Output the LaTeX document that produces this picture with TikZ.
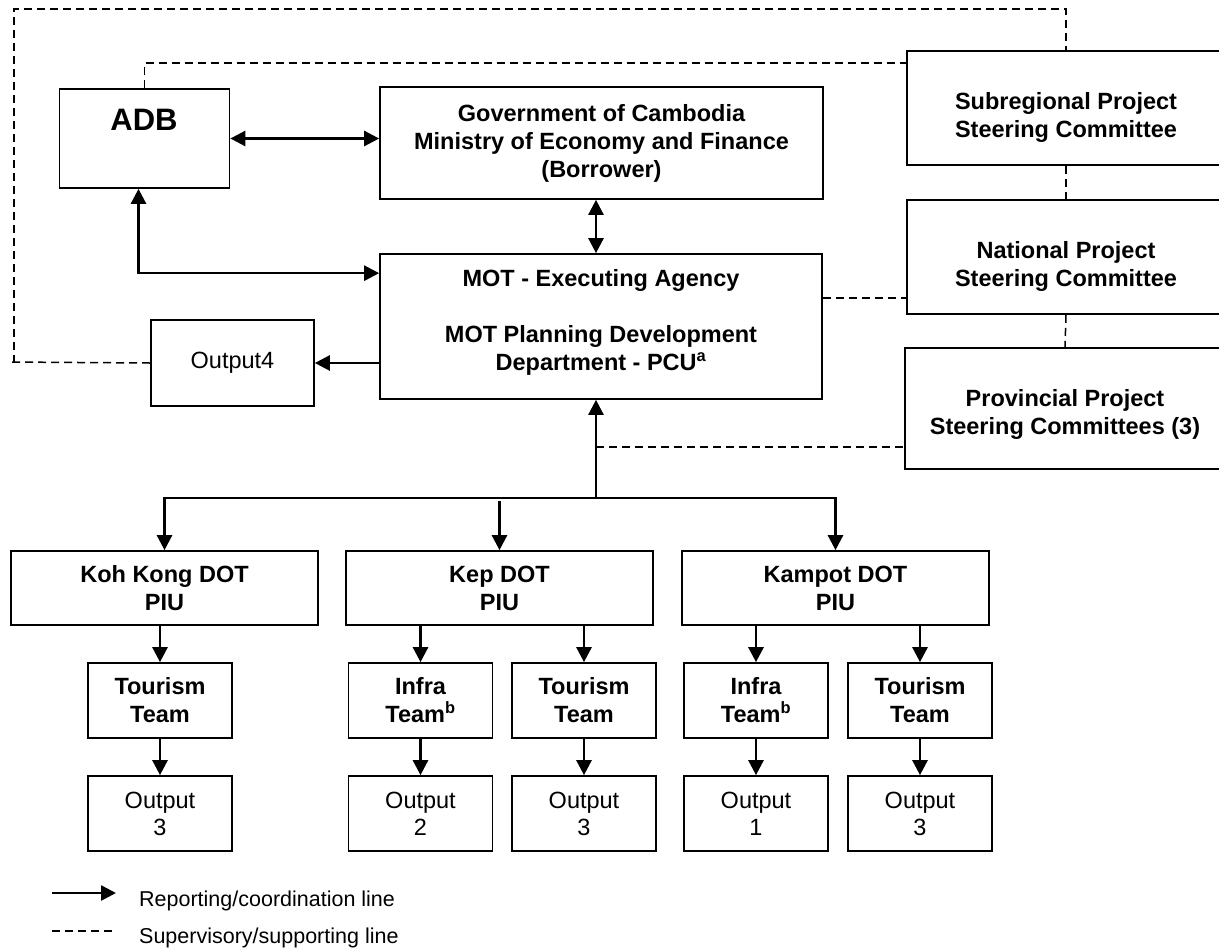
\documentclass[tikz,border=0pt]{standalone}
\usepackage{fontspec}
\setmainfont{Liberation Sans}
\usetikzlibrary{arrows.meta,calc}
\begin{document}
\begin{tikzpicture}[x=1pt,y=-1pt,
  box/.style={draw,line width=1.7pt,inner sep=0pt,align=center,font=\fontsize{23.5}{28}\selectfont\bfseries},
  obox/.style={box,font=\fontsize{23.5}{27}\selectfont},
  txt/.style={inner sep=0pt,align=center,font=\fontsize{23.5}{28}\selectfont\bfseries},
  legtxt/.style={inner sep=0pt,anchor=west,font=\fontsize{21.5}{25}\selectfont},
  arr/.style={line width=2.6pt,-{Triangle[length=15pt,width=15pt]}},
  darr/.style={line width=2.6pt,{Triangle[length=15pt,width=15pt]}-{Triangle[length=15pt,width=15pt]}},
  dashln/.style={line width=1.5pt,dash pattern=on 8pt off 5pt},
]
\useasboundingbox (0,0) rectangle (1219,951);
\clip (0,0) rectangle (1219,951);

% top boxes
\node[box,minimum width=170pt,minimum height=99pt] (adb) at (144.5,138.5) {};
\node[txt,font=\fontsize{31}{36}\selectfont\bfseries] (adbt) at (144,120) {ADB};
\node[box,minimum width=443pt,minimum height=112pt] (gov) at (601.5,143)
  {Government of Cambodia\\Ministry of Economy and Finance\\(Borrower)};
\node[box,minimum width=442pt,minimum height=145pt] (mot) at (601,326.5) {};
\node[txt] (mott) at (601,322)
  {MOT - Executing Agency\\[28pt]MOT Planning Development\\Department - PCU\textsuperscript{a}};
\node[obox,minimum width=163pt,minimum height=86pt] (out4) at (232.5,363) {Output4};

% steering committees
\node[box,minimum width=318pt,minimum height=114pt] (sub) at (1066,108) {};
\node[txt] (subt) at (1066,117) {Subregional Project\\Steering Committee};
\node[box,minimum width=318pt,minimum height=114pt] (nat) at (1066,257) {};
\node[txt] (natt) at (1066,266) {National Project\\Steering Committee};
\node[box,minimum width=320pt,minimum height=121pt] (prov) at (1065,408.5) {};
\node[txt] (provt) at (1065,414) {Provincial Project\\Steering Committees (3)};

% DOT PIUs
\node[box,minimum width=307pt,minimum height=74pt] (kk) at (164.5,588) {Koh Kong DOT\\PIU};
\node[box,minimum width=307pt,minimum height=74pt] (kep) at (499.5,588) {Kep DOT\\PIU};
\node[box,minimum width=307pt,minimum height=74pt] (kam) at (835.5,588) {Kampot DOT\\PIU};

% teams
\node[box,minimum width=144pt,minimum height=75pt] (kkt) at (160,700.5) {Tourism\\Team};
\node[box,minimum width=144pt,minimum height=75pt] (kepi) at (420.5,700.5) {Infra\\Team\textsuperscript{b}};
\node[box,minimum width=144pt,minimum height=75pt] (kept) at (584,700.5) {Tourism\\Team};
\node[box,minimum width=144pt,minimum height=75pt] (kami) at (756,700.5) {Infra\\Team\textsuperscript{b}};
\node[box,minimum width=144pt,minimum height=75pt] (kamt) at (920,700.5) {Tourism\\Team};

% outputs
\node[obox,minimum width=144pt,minimum height=75pt] (o1) at (160,813.5) {Output\\3};
\node[obox,minimum width=144pt,minimum height=75pt] (o2) at (420.5,813.5) {Output\\2};
\node[obox,minimum width=144pt,minimum height=75pt] (o3) at (584,813.5) {Output\\3};
\node[obox,minimum width=144pt,minimum height=75pt] (o4) at (756,813.5) {Output\\1};
\node[obox,minimum width=144pt,minimum height=75pt] (o5) at (920,813.5) {Output\\3};

% coordinates
\coordinate (spine) at ([xshift=-5pt]mot.south);
\coordinate (bus) at (596,498);
\coordinate (natin) at ([yshift=17pt]nat.south west);
\coordinate (provin) at ([yshift=23pt]prov.south west);
\coordinate (subin) at ([yshift=-13pt]sub.north west);
\coordinate (motin) at ([yshift=-20pt]mot.north west);
\coordinate (adbout) at ([xshift=-6pt]adb.south);
\coordinate (corner) at (14,9);
\coordinate (cornerx) at (8,362);

% reporting lines
\draw[darr] (adb.east) -- (adb.east -| gov.west);
\draw[darr] (gov.south -| spine) -- (mot.north -| spine);
\draw[darr] (adbout) |- (motin);
\draw[arr] (mot.west |- out4.east) -- (out4.east);
\draw[arr] (bus) -- (bus |- mot.south);
\draw[arr] (bus) -| (kk.north);
\draw[arr] (bus) -| (kam.north);
\draw[arr] ([yshift=-3pt]bus -| kep.north) -- (kep.north);
\draw[arr] (kk.south -| kkt.north) -- (kkt.north);
\draw[arr] (kep.south -| kepi.north) -- (kepi.north);
\draw[arr] (kep.south -| kept.north) -- (kept.north);
\draw[arr] (kam.south -| kami.north) -- (kami.north);
\draw[arr] (kam.south -| kamt.north) -- (kamt.north);
\draw[arr] (kkt) -- (o1);
\draw[arr] (kepi) -- (o2);
\draw[arr] (kept) -- (o3);
\draw[arr] (kami) -- (o4);
\draw[arr] (kamt) -- (o5);

% supervisory lines
\draw[dashln] (out4.west) -- (cornerx);
\draw[dashln] (out4.west -| corner) -- (corner) -| (sub.north);
\draw[dashln] (adb.north) |- (subin);
\draw[dashln] (mot.east |- natin) -- (natin);
\draw[dashln] (sub.south) -- (nat.north);
\draw[dashln] (nat.south) -- (prov.north);
\draw[dashln] (bus |- provin) -- (provin);

% legend
\coordinate (l1a) at (52,893);
\coordinate (l1b) at (116,893);
\coordinate (l2a) at (52,931);
\coordinate (l2b) at (116,931);
\draw[arr] (l1a) -- (l1b);
\draw[dashln] (l2a) -- (l2b);
\node[legtxt] (leg1) at (139,901) {Reporting/coordination line};
\node[legtxt] (leg2) at (139,938) {Supervisory/supporting line};
\end{tikzpicture}
\end{document}
